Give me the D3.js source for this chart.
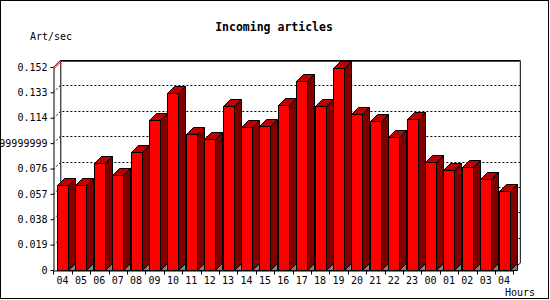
<!DOCTYPE html>
<html>
<head>
	<title>Incoming articles</title>
	<style type="text/css">
		body {
			margin: 0;
			background: #fff;
		}

		svg text {
			font-family: "DejaVu Sans Mono", monospace;
			font-size: 10px;
			fill: #000;
		}

		.title {
			font-size: 11.5px;
			font-weight: bold;
		}

		.grid {
			fill: none;
			stroke: #000;
			stroke-width: 1;
			stroke-dasharray: 2, 2;
		}

		.bar {
			stroke: #000;
			stroke-width: 1;
			stroke-linejoin: miter;
		}
	</style>
</head>
<body>
	<div id="chart"></div>
	<script src="https://d3js.org/d3.v7.min.js"></script>
	<script type="text/javascript">
		var hours = ["04", "05", "06", "07", "08", "09", "10", "11", "12", "13", "14", "15", "16",
			"17", "18", "19", "20", "21", "22", "23", "00", "01", "02", "03", "04"];

		// articles per second
		var rates = [0.0636, 0.0636, 0.0799, 0.0711, 0.0881, 0.1123, 0.1323, 0.1016, 0.0981,
			0.1225, 0.1071, 0.1076, 0.1233, 0.1415, 0.1225, 0.1510, 0.1166, 0.1116, 0.0996,
			0.1128, 0.0806, 0.0746, 0.0769, 0.0679, 0.0589];

		var yTicks = [0, 0.019, 0.038, 0.057, 0.076, 0.095, 0.114, 0.133, 0.152];
		var yTickLabels = ["0", "0.019", "0.038", "0.057", "0.076", "0.0949999999999",
			"0.114", "0.133", "0.152"];

		var width = 550,
			height = 300,
			depth = 7;

		var svg = d3.select("#chart")
			.append("svg")
			.attr("width", width)
			.attr("height", height);

		var x = d3.scaleBand()
			.domain(d3.range(hours.length))
			.range([53.3, 513.3])
			.paddingInner(0)
			.paddingOuter(0);

		var y = d3.scaleLinear()
			.domain([0, 0.152])
			.range([270, 67]);

		var x0 = x.range()[0], x1 = x.range()[1],
			yBase = y(0), yTop = y(0.152);

		// frame
		svg.append("rect")
			.attr("x", 0.5).attr("y", 0.5)
			.attr("width", 548).attr("height", 298)
			.attr("fill", "#fff")
			.attr("stroke", "#000");

		svg.append("text")
			.attr("class", "title")
			.attr("x", 274).attr("y", 31)
			.attr("text-anchor", "middle")
			.text("Incoming articles");

		svg.append("text")
			.attr("x", 30).attr("y", 40)
			.text("Art/sec");

		svg.append("text")
			.attr("x", 505).attr("y", 296)
			.text("Hours");

		// dotted grid on the back wall, starting with a diagonal from the front axis
		svg.append("g")
			.selectAll("path")
			.data(yTicks.filter(function(d) { return d > 0 && d < 0.152; }))
			.enter()
			.append("path")
			.attr("class", "grid")
			.attr("d", function(d) {
				var yy = Math.round(y(d)) + 0.5;
				return "M" + x0 + "," + yy + "L" + (x0 + depth) + "," + (yy - depth) +
					"L" + (x1 + depth) + "," + (yy - depth);
			});

		// back wall edges
		var walls = svg.append("g").attr("fill", "none").attr("stroke", "#000");
		walls.append("path")
			.attr("d", "M" + (x0 + depth + 0.5) + "," + (yBase - depth) + "V" + (yTop - depth + 0.5));
		walls.append("path")
			.attr("d", "M" + (x1 + depth) + "," + (yTop - depth + 0.5) + "V" + (yBase - depth) +
				"L" + x1 + "," + yBase);
		walls.append("path")
			.attr("d", "M" + x0 + "," + (yTop + 0.5) + "L" + (x0 + depth) + "," + (yTop - depth + 0.5) +
				"H" + (x1 + depth));
		svg.append("path")
			.attr("fill", "none")
			.attr("stroke", "#ff0000")
			.attr("d", "M" + (x0 + 1) + "," + (yTop + 1.5) + "L" + (x0 + depth + 1) + "," + (yTop - depth + 1.5) +
				"H" + (x1 + depth - 0.5));

		// bars
		var barW = x.bandwidth() * 0.6;
		var bars = svg.append("g")
			.selectAll("g")
			.data(rates)
			.enter()
			.append("g")
			.attr("class", "bar");

		bars.each(function(d, i) {
			var g = d3.select(this),
				left = Math.round(x(i) + (x.bandwidth() - barW) / 2) + 0.5,
				right = left + Math.round(barW),
				top = Math.round(y(d)) + 0.5,
				base = yBase + 0.5;

			// floor shadow
			g.append("path")
				.attr("fill", "#808080")
				.attr("d", "M" + right + "," + base + "L" + (right + depth) + "," + (base - depth) +
					"V" + base + "Z");
			// side
			g.append("path")
				.attr("fill", "#800000")
				.attr("d", "M" + right + "," + top + "L" + (right + depth) + "," + (top - depth) +
					"V" + (base - depth) + "L" + right + "," + base + "Z");
			// top
			g.append("path")
				.attr("fill", "#c00000")
				.attr("d", "M" + left + "," + top + "L" + (left + depth) + "," + (top - depth) +
					"H" + (right + depth) + "L" + right + "," + top + "Z");
			// front
			g.append("rect")
				.attr("fill", "#ff0000")
				.attr("x", left).attr("y", top)
				.attr("width", right - left).attr("height", base - top);
		});

		// y axis (front)
		var yAxis = svg.append("g")
			.attr("transform", "translate(" + (Math.round(x0) + 0.5) + ",0)")
			.call(d3.axisLeft(y)
				.tickValues(yTicks)
				.tickFormat(function(d, i) { return yTickLabels[i]; })
				.tickSize(3)
				.tickSizeOuter(0)
				.tickPadding(3));
		yAxis.select(".domain").attr("stroke", "#000");
		yAxis.selectAll("text").attr("font-family", null).attr("font-size", null);

		// x axis (front)
		var xAxis = svg.append("g")
			.attr("transform", "translate(0," + (yBase + 0.5) + ")")
			.call(d3.axisBottom(x)
				.tickFormat(function(d) { return hours[d]; })
				.tickSize(0)
				.tickSizeOuter(0)
				.tickPadding(6));
		xAxis.select(".domain").attr("stroke", "#000");
		xAxis.selectAll("text").attr("font-family", null).attr("font-size", null);

		// boundary ticks between the hours
		xAxis.append("g")
			.selectAll("line")
			.data(d3.range(hours.length + 1))
			.enter()
			.append("line")
			.attr("x1", function(d) { return Math.round(x0 + d * x.step()) + 0.5; })
			.attr("x2", function(d) { return Math.round(x0 + d * x.step()) + 0.5; })
			.attr("y1", 0).attr("y2", 4)
			.attr("stroke", "#000");
	</script>
</body>
</html>
